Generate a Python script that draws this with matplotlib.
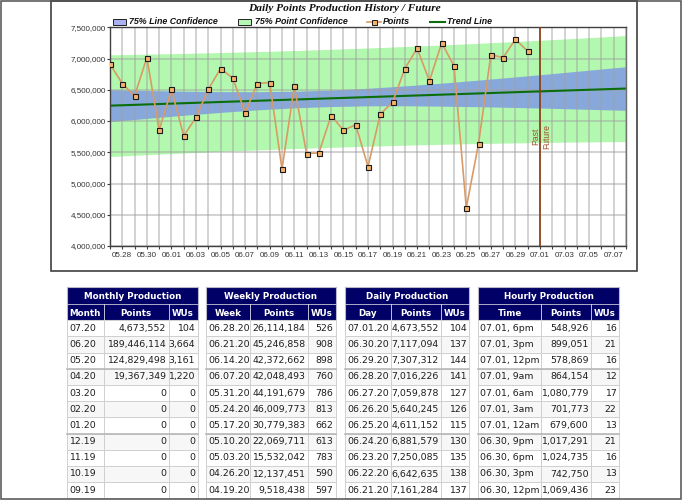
import numpy as np
import pandas as pd
import matplotlib
matplotlib.use('Agg')
import matplotlib.pyplot as plt
import matplotlib.dates as mdates
from matplotlib.patches import Rectangle
from matplotlib.ticker import FuncFormatter, MultipleLocator, FixedLocator
from matplotlib import font_manager

# ---- chart data (daily points, 05.27 .. 06.30) ----
first_day = '2020-05-27'
daily_points = [6910000, 6600000, 6400000, 7016000, 5853000, 6505000, 5763000,
                6057000, 6505000, 6840000, 6685000, 6130000, 6600000, 6616000,
                5230000, 6553000, 5480000, 5490000, 6087000, 5853000, 5940000,
                5270000, 6110000, 6300000, 6840000, 7161284, 6642635, 7250085,
                6881579, 4611152, 5640245, 7059878, 7016226, 7307312, 7117094]

trend_dates = ['2020-05-27', '2020-07-08']
trend_values = [6246000, 6520000]

# confidence bands read every 3 days from 05.27 to 07.08
band_dates = pd.date_range('2020-05-27', '2020-07-08', freq='3D')
line_conf_upper = [6502000, 6489000, 6478000, 6471000, 6470000, 6477000, 6495000, 6524000,
                   6562000, 6606000, 6655000, 6706000, 6759000, 6814000, 6869000]
line_conf_lower = [5990000, 6042000, 6092000, 6138000, 6179000, 6211000, 6232000, 6243000,
                   6244000, 6238000, 6229000, 6217000, 6203000, 6187000, 6171000]
point_conf_upper = [7060000, 7070000, 7082000, 7096000, 7111000, 7128000, 7148000, 7169000,
                    7192000, 7217000, 7244000, 7272000, 7303000, 7334000, 7368000]
point_conf_lower = [5432000, 5461000, 5488000, 5514000, 5538000, 5559000, 5579000, 5597000,
                    5613000, 5628000, 5640000, 5650000, 5659000, 5666000, 5672000]

divider_date = '2020-07-01'
x_start, x_end = '2020-05-27', '2020-07-08'
tick_dates = pd.date_range('2020-05-28', '2020-07-07', freq='2D')

# ---- table data ----
months = ['07.20', '06.20', '05.20', '04.20', '03.20', '02.20', '01.20', '12.19', '11.19', '10.19', '09.19']
month_points = [4673552, 189446114, 124829498, 19367349, 0, 0, 0, 0, 0, 0, 0]
month_wus = [104, 3664, 3161, 1220, 0, 0, 0, 0, 0, 0, 0]

weeks = ['06.28.20', '06.21.20', '06.14.20', '06.07.20', '05.31.20', '05.24.20',
         '05.17.20', '05.10.20', '05.03.20', '04.26.20', '04.19.20']
week_points = [26114184, 45246858, 42372662, 42048493, 44191679, 46009773,
               30779383, 22069711, 15532042, 12137451, 9518438]
week_wus = [526, 908, 898, 760, 786, 813, 662, 613, 783, 590, 597]

days = ['07.01.20', '06.30.20', '06.29.20', '06.28.20', '06.27.20', '06.26.20',
        '06.25.20', '06.24.20', '06.23.20', '06.22.20', '06.21.20']
day_points = [4673552, 7117094, 7307312, 7016226, 7059878, 5640245,
              4611152, 6881579, 7250085, 6642635, 7161284]
day_wus = [104, 137, 144, 141, 127, 126, 115, 130, 135, 138, 137]

hours = ['07.01, 6pm', '07.01, 3pm', '07.01, 12pm', '07.01, 9am', '07.01, 6am', '07.01, 3am',
         '07.01, 12am', '06.30, 9pm', '06.30, 6pm', '06.30, 3pm', '06.30, 12pm']
hour_points = [548926, 899051, 578869, 864154, 1080779, 701773,
               679600, 1017291, 1024735, 742750, 1069436]
hour_wus = [16, 21, 16, 12, 17, 22, 13, 21, 16, 13, 23]

# ---- styles ----
W, H = 682, 500
navy = '#000066'
green_fill = '#B2F8AE'
blue_fill = '#88A8DC'
pts_line = '#D99A66'
trend_col = '#0A6E0A'

names = {f.name for f in font_manager.fontManager.ttflist}
if 'Liberation Sans Narrow' in names:
    tick_font, tick_size = 'Liberation Sans Narrow', 7.0
else:
    tick_font, tick_size = 'Liberation Sans', 5.8

fig = plt.figure(figsize=(W / 100, H / 100), dpi=100)
fig.patch.set_facecolor('white')

# background axes in pixel coordinates
bg = fig.add_axes([0, 0, 1, 1])
bg.set_xlim(0, W)
bg.set_ylim(H, 0)
bg.axis('off')

bg.add_patch(Rectangle((51, 1), 585.5, 270, fc='white', ec='#404040', lw=1.2))

bg.text(344, 8.5, 'Daily Points Production History / Future', ha='center', va='center',
        family='Liberation Serif', weight='bold', style='italic', size=8.2, color='#111111')

leg_font = dict(family='Liberation Sans', weight='bold', style='italic', size=6.4,
                color='#111111', va='center', ha='left')
ly = 21.8
bg.add_patch(Rectangle((113, 19.2), 13, 5.4, fc='#A9B1F2', ec='#222222', lw=0.7))
bg.text(129, ly, '75% Line Confidence', **leg_font)
bg.add_patch(Rectangle((238, 19.2), 13, 5.4, fc='#B3F8B3', ec='#222222', lw=0.7))
bg.text(255, ly, '75% Point Confidence', **leg_font)
bg.plot([367, 381], [ly, ly], color=pts_line, lw=1.2)
bg.plot([374], [ly], marker='s', ms=3.6, mfc='#F7B26A', mec='#1a1a1a', mew=0.7)
bg.text(383, ly, 'Points', **leg_font)
bg.plot([430, 445], [ly, ly], color=trend_col, lw=1.5)
bg.text(447, ly, 'Trend Line', **leg_font)

# ---- chart ----
ax = fig.add_axes([110 / W, 1 - 246 / H, 516 / W, (246 - 27.3) / H])
dates = pd.date_range(first_day, periods=len(daily_points))

ax.fill_between(band_dates, point_conf_lower, point_conf_upper, color=green_fill, lw=0, zorder=1)
ax.fill_between(band_dates, line_conf_lower, line_conf_upper, color=blue_fill, lw=0, zorder=1.1)
ax.plot(pd.to_datetime(trend_dates), trend_values, color=trend_col, lw=1.5, zorder=2)
ax.plot(dates, daily_points, color=pts_line, lw=1.2, marker='s', ms=3.6,
        mfc='#F7B26A', mec='#1a1a1a', mew=0.8, zorder=3)

div = mdates.date2num(pd.Timestamp(divider_date))
ax.axvline(div, color='#8B3A0F', lw=1.2, zorder=2.6)
ax.annotate('Past', xy=(div, 0.5), xycoords=('data', 'axes fraction'), xytext=(0, 0),
            textcoords='offset points', rotation=90, ha='right', va='center',
            color='#A0522D', size=6.2, family='Liberation Sans')
ax.annotate('Future', xy=(div, 0.5), xycoords=('data', 'axes fraction'), xytext=(1.5, 0),
            textcoords='offset points', rotation=90, ha='left', va='center',
            color='#A0522D', size=6.2, family='Liberation Sans')

ax.set_xlim(pd.Timestamp(x_start), pd.Timestamp(x_end))
ax.set_ylim(4000000, 7500000)
ax.yaxis.set_major_locator(MultipleLocator(500000))
ax.yaxis.set_major_formatter(FuncFormatter(lambda v, p: f'{int(v):,}'))
ax.xaxis.set_major_locator(FixedLocator(mdates.date2num(tick_dates)))
ax.xaxis.set_minor_locator(mdates.DayLocator())
ax.xaxis.set_major_formatter(mdates.DateFormatter('%m.%d'))

ax.set_axisbelow('line')
ax.grid(which='both', axis='x', color='#A0A0A0', alpha=0.5, lw=1.3)
ax.grid(which='major', axis='y', color='#A0A0A0', alpha=0.5, lw=1.3)

ax.tick_params(which='both', direction='out', length=2.2, width=0.8, color='#404040',
               labelcolor='#333333')
ax.tick_params(axis='y', pad=0.8)
ax.tick_params(axis='x', pad=1.8)
for lab in ax.get_xticklabels() + ax.get_yticklabels():
    lab.set_family(tick_font)
    lab.set_fontsize(tick_size)
for s in ax.spines.values():
    s.set_color('#404040')
    s.set_linewidth(1.0)
ax.spines['right'].set_color('#707070')

# ---- tables ----
TOP, TITLE_H, HEAD_H, ROW_H = 287.3, 16.2, 16.6, 16.2


def draw_table(x0, widths, title, headers, labels, points, wus):
    edges = np.concatenate([[x0], x0 + np.cumsum(widths)])
    right = edges[-1]
    bg.add_patch(Rectangle((x0, TOP), right - x0, TITLE_H + HEAD_H, fc=navy, ec='#B8B8C8', lw=0.8))
    bg.text((x0 + right) / 2, TOP + 12, title, ha='center', va='baseline', color='white',
            weight='bold', size=6.3)
    bg.plot([x0, right], [TOP + TITLE_H] * 2, color='#C8C8D8', lw=0.6)
    for j, h in enumerate(headers):
        bg.text((edges[j] + edges[j + 1]) / 2, TOP + TITLE_H + 12.4, h, ha='center',
                va='baseline', color='white', weight='bold', size=6.3)
        if j > 0:
            bg.plot([edges[j]] * 2, [TOP + TITLE_H, TOP + TITLE_H + HEAD_H], color='#E0E0F0', lw=0.6)
    ytop = TOP + TITLE_H + HEAD_H
    for i, (lab, p, w) in enumerate(zip(labels, points, wus)):
        y = ytop + i * ROW_H
        fc = '#FFFFFF' if i % 2 == 0 else '#F7F7F7'
        for j in range(3):
            bg.add_patch(Rectangle((edges[j], y), widths[j], ROW_H, fc=fc, ec='#D0D0D0', lw=0.7))
        if i in (3, 7):
            bg.plot([x0, right], [y, y], color='#B8B8B8', lw=1.2)
        tkw = dict(va='baseline', size=6.75, color='#1E1E1E')
        bg.text(edges[0] + 2, y + 10.6, lab, ha='left', **tkw)
        bg.text(edges[2] - 2.5, y + 10.6, f'{p:,}', ha='right', **tkw)
        bg.text(edges[3] - 2.5, y + 10.6, f'{w:,}', ha='right', **tkw)


draw_table(67, [36.5, 65, 29], 'Monthly Production', ['Month', 'Points', 'WUs'],
           months, month_points, month_wus)
draw_table(206, [44, 58, 28], 'Weekly Production', ['Week', 'Points', 'WUs'],
           weeks, week_points, week_wus)
draw_table(345, [46, 50, 28], 'Daily Production', ['Day', 'Points', 'WUs'],
           days, day_points, day_wus)
draw_table(478, [63, 50, 28], 'Hourly Production', ['Time', 'Points', 'WUs'],
           hours, hour_points, hour_wus)

# page border
bg.add_patch(Rectangle((0.7, 0.7), W - 1.4, H - 2.2, fill=False, ec='#505050', lw=1.1, zorder=10))

fig.savefig('out.png', dpi=100, facecolor='white')
